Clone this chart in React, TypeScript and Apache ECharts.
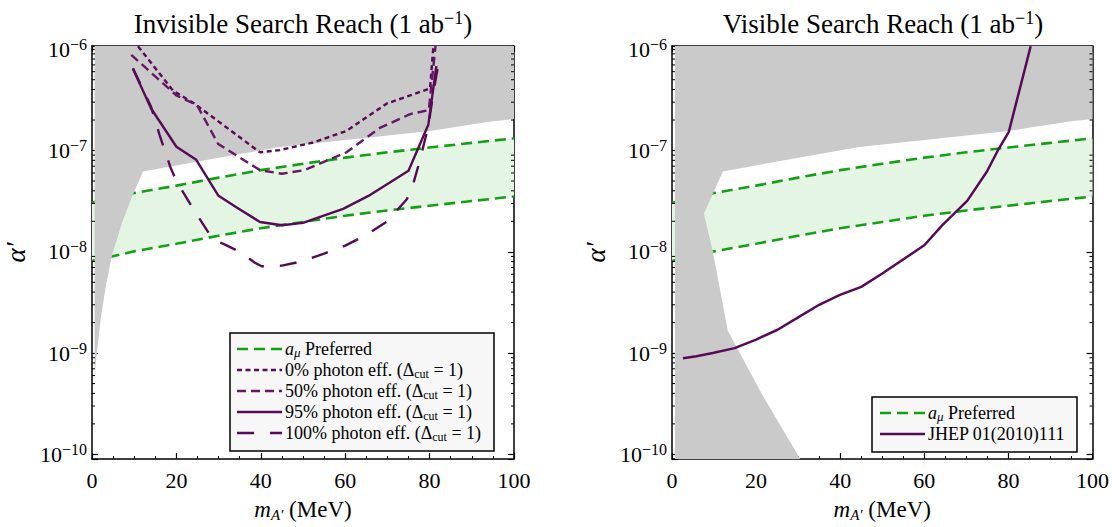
import React, { useEffect, useRef } from "react";
import * as echarts from "echarts";

// ---------------- data ----------------
const X_MIN = 0;
const X_MAX = 100;
const Y_MIN = 9.0e-11;
const Y_MAX = 1.076e-6;

// a_mu preferred band (MeV, alpha')
const amuX = [0, 10, 20, 30, 40, 50, 60, 70, 80, 90, 100];
const amuUpper = [3.05e-8, 3.8e-8, 4.5e-8, 5.4e-8, 6.4e-8, 7.4e-8, 8.5e-8, 9.6e-8, 1.07e-7, 1.19e-7, 1.32e-7];
const amuLower = [8.1e-9, 1.01e-8, 1.2e-8, 1.44e-8, 1.71e-8, 1.97e-8, 2.27e-8, 2.56e-8, 2.85e-8, 3.17e-8, 3.52e-8];

// excluded region: upper boundary (shared by both panels)
const exclTopX = [12.1, 28.7, 44.5, 80.1, 94.5, 100];
const exclTopA = [6.2e-8, 8.3e-8, 1.08e-7, 1.56e-7, 1.93e-7, 2.05e-7];

// excluded region: low-mass boundary, invisible panel
const invisLowX = [0.62, 0.7, 1.25, 2.04, 3.23, 4.8, 7.18, 9.55];
const invisLowA = [5.5e-10, 6.6e-10, 1.1e-9, 2.15e-9, 4.5e-9, 9.4e-9, 1.97e-8, 3.56e-8];

// excluded region: low-mass boundary, visible panel
const visLowX = [7.57, 9.7, 13.27, 21.6, 30.5];
const visLowA = [2.37e-8, 1.01e-8, 1.66e-9, 3.8e-10, 9.0e-11];
const exclLeftX = 0.7;

// invisible search reach curves
const eff0X = [10.9, 19.2, 24.3, 39.8, 44.5, 52.4, 60.3, 69.8, 80.1, 80.9];
const eff0A = [1.07e-6, 3.9e-7, 2.9e-7, 9.6e-8, 1.01e-7, 1.2e-7, 1.56e-7, 2.9e-7, 4.1e-7, 1.07e-6];
const eff50X = [9.3, 20.0, 24.9, 29.9, 39.8, 45.0, 50.4, 60.3, 68.2, 75.4, 79.8, 81.4];
const eff50A = [8.8e-7, 3.5e-7, 2.8e-7, 1.16e-7, 6.4e-8, 5.9e-8, 6.4e-8, 9.6e-8, 1.67e-7, 2.29e-7, 2.5e-7, 1.07e-6];
const eff95X = [9.7, 14.0, 20.0, 24.7, 29.9, 34.2, 39.8, 45.0, 50.0, 59.5, 65.5, 75.0, 79.7, 81.6];
const eff95A = [6.4e-7, 2.6e-7, 1.09e-7, 8.1e-8, 3.6e-8, 2.75e-8, 1.97e-8, 1.83e-8, 1.93e-8, 2.65e-8, 3.56e-8, 6.3e-8, 1.8e-7, 6.8e-7];
const eff100X = [9.7, 14.0, 16.0, 18.6, 20.0, 24.0, 28.5, 32.0, 35.0, 38.6, 40.2, 45.0, 50.0, 55.0, 60.0, 65.0, 70.0, 74.6, 76.0, 77.7, 79.7, 81.0, 82.0];
const eff100A = [6.5e-7, 2.7e-7, 1.43e-7, 6.8e-8, 5.0e-8, 2.65e-8, 1.35e-8, 1.15e-8, 1.0e-8, 7.8e-9, 7.2e-9, 7.3e-9, 8.1e-9, 9.6e-9, 1.15e-8, 1.47e-8, 2.0e-8, 3.3e-8, 4.5e-8, 8.0e-8, 1.74e-7, 4.0e-7, 6.8e-7];

// visible search reach (JHEP 01(2010)111)
const jhepX = [2.6, 5.8, 9.7, 14.9, 20.0, 25.1, 30.3, 35.0, 39.8, 45.0, 50.0, 60.0, 64.3, 70.2, 74.9, 77.7, 80.1, 85.3];
const jhepA = [8.9e-10, 9.3e-10, 1.0e-9, 1.12e-9, 1.36e-9, 1.7e-9, 2.29e-9, 3.0e-9, 3.74e-9, 4.5e-9, 6.1e-9, 1.16e-8, 1.83e-8, 3.18e-8, 6.2e-8, 1.04e-7, 1.53e-7, 1.07e-6];

// axis decoration
const minorMantissas = [2, 3, 4, 5, 6, 7, 8, 9];
const minorDecades = [-10, -9, -8, -7];

const titles = ["Invisible Search Reach (1 ab{s|−1})", "Visible Search Reach (1 ab{s|−1})"];
const legendInvisible = [
  "{i|a}{si|μ} Preferred",
  "0% photon eff. (Δ{sub|cut} = 1)",
  "50% photon eff. (Δ{sub|cut} = 1)",
  "95% photon eff. (Δ{sub|cut} = 1)",
  "100% photon eff. (Δ{sub|cut} = 1)",
];
const legendVisible = ["{i|a}{si|μ} Preferred", "JHEP 01(2010)111"];

// ---------------- styles ----------------
const F = "'Liberation Serif', 'Times New Roman', serif";
const GREEN = "#14a014";
const PURPLE = "#570b57";
const PURPLE2 = "#651865";
const GRAY = "#cacaca";
const BAND = "#e4f5e4";

const GRIDS = [
  { left: 92, top: 46, width: 422, height: 424 },
  { left: 672, top: 46, width: 422, height: 424 },
];

const zip = (xs: number[], ys: number[]) => xs.map((x, i) => [x, ys[i]]);

function App() {
  const ref = useRef<HTMLDivElement>(null);

  useEffect(() => {
    if (!ref.current) return;
    const chart = echarts.init(ref.current, undefined, { renderer: "svg" });

    const yFmt = (v: number) => {
      const e = Math.log10(v);
      const r = Math.round(e);
      if (Math.abs(e - r) > 1e-3) return "";
      return `{b|10}{s|${r < 0 ? "−" : ""}${Math.abs(r)}}`;
    };
    const yRich = {
      b: { fontFamily: F, fontSize: 22, lineHeight: 26, color: "#000" },
      s: { fontFamily: F, fontSize: 16, lineHeight: 13, verticalAlign: "top", color: "#000" },
    };
    const axisLine = { show: true, onZero: false, lineStyle: { color: "#000", width: 1.5 } };

    const xAxes: any[] = [];
    const yAxes: any[] = [];
    GRIDS.forEach((_, g) => {
      xAxes.push({
        gridIndex: g, type: "value", min: X_MIN, max: X_MAX, interval: 20, position: "bottom",
        axisLine, splitLine: { show: false },
        axisTick: { show: true, inside: true, length: 6, lineStyle: { color: "#000", width: 1.2 } },
        minorTick: { show: true, splitNumber: 4, length: 3, lineStyle: { color: "#000", width: 1 } },
        axisLabel: { fontFamily: F, fontSize: 22, color: "#000", margin: 10 },
        name: "{i|m}{sub|A′} (MeV)", nameLocation: "middle", nameGap: 37,
        nameTextStyle: {
          fontFamily: F, fontSize: 23, color: "#000", lineHeight: 26,
          rich: {
            i: { fontFamily: F, fontStyle: "italic", fontSize: 23, lineHeight: 26, color: "#000" },
            sub: { fontFamily: F, fontStyle: "italic", fontSize: 15, lineHeight: 10, verticalAlign: "bottom", color: "#000" },
          },
        },
      });
      xAxes.push({
        gridIndex: g, type: "value", min: X_MIN, max: X_MAX, interval: 20, position: "top",
        axisLine, splitLine: { show: false }, axisLabel: { show: false },
        axisTick: { show: true, inside: true, length: 6, lineStyle: { color: "#000", width: 1.2 } },
        minorTick: { show: true, splitNumber: 4, length: 3, lineStyle: { color: "#000", width: 1 } },
      });
      yAxes.push({
        gridIndex: g, type: "log", logBase: 10, min: Y_MIN, max: Y_MAX, position: "left",
        axisLine, splitLine: { show: false },
        axisTick: { show: true, inside: true, length: 6, lineStyle: { color: "#000", width: 1.2 } },
        axisLabel: { formatter: yFmt, rich: yRich, margin: 5 },
        name: "α′", nameLocation: "middle", nameGap: 63, nameRotate: 90,
        nameTextStyle: { fontFamily: F, fontStyle: "italic", fontSize: 27, color: "#000" },
      });
      yAxes.push({
        gridIndex: g, type: "log", logBase: 10, min: Y_MIN, max: Y_MAX, position: "right",
        axisLine, splitLine: { show: false }, axisLabel: { show: false },
        axisTick: { show: true, inside: true, length: 6, lineStyle: { color: "#000", width: 1.2 } },
      });
    });

    const polygon = (axisIdx: number, pts: number[][], fill: string, z: number) => ({
      type: "custom", xAxisIndex: axisIdx, yAxisIndex: axisIdx, z, silent: true, clip: true,
      data: [pts[0]],
      renderItem: (_p: any, api: any) => ({
        type: "polygon",
        shape: { points: pts.map((p) => api.coord(p)) },
        style: { fill, stroke: null },
      }),
    });

    const line = (axisIdx: number, xs: number[], ys: number[], color: string, width: number, type: any, z: number) => ({
      type: "line", xAxisIndex: axisIdx, yAxisIndex: axisIdx, z, silent: true, clip: true,
      data: zip(xs, ys), symbol: "none", animation: false,
      lineStyle: { color, width, type },
    });

    const minorTickData: number[][] = [];
    minorDecades.forEach((d) => minorMantissas.forEach((m) => minorTickData.push([0, m * Math.pow(10, d)])));
    const minorTicks = (axisIdx: number) => ({
      type: "custom", xAxisIndex: axisIdx, yAxisIndex: axisIdx, z: 10, silent: true,
      data: minorTickData,
      renderItem: (params: any, api: any) => {
        const y = api.coord([0, api.value(1)])[1];
        const cs = params.coordSys;
        return {
          type: "group",
          children: [
            { type: "line", shape: { x1: cs.x, y1: y, x2: cs.x + 3, y2: y }, style: { stroke: "#000", lineWidth: 1 } },
            { type: "line", shape: { x1: cs.x + cs.width - 3, y1: y, x2: cs.x + cs.width, y2: y }, style: { stroke: "#000", lineWidth: 1 } },
          ],
        };
      },
    });

    const bandPts = [...zip(amuX, amuUpper), ...zip(amuX, amuLower).reverse()];
    const topPts = zip(exclTopX, exclTopA).reverse();
    const grayInvis = [
      [invisLowX[0], Y_MAX], [X_MAX, Y_MAX], ...topPts, ...zip(invisLowX, invisLowA).reverse(),
    ];
    const grayVis = [
      [exclLeftX, Y_MAX], [X_MAX, Y_MAX], ...topPts, ...zip(visLowX, visLowA), [exclLeftX, Y_MIN],
    ];

    const series: any[] = [];
    [0, 2].forEach((ai) => {
      series.push(polygon(ai, bandPts, BAND, 1));
      series.push(line(ai, amuX, amuUpper, GREEN, 2.6, [11, 6], 2));
      series.push(line(ai, amuX, amuLower, GREEN, 2.6, [11, 6], 2));
      series.push(polygon(ai, ai === 0 ? grayInvis : grayVis, GRAY, 3));
      series.push(minorTicks(ai));
    });
    series.push(line(0, eff0X, eff0A, PURPLE, 2.4, [5, 3.5], 4));
    series.push(line(0, eff50X, eff50A, PURPLE2, 2.4, [9, 5], 4));
    series.push(line(0, eff95X, eff95A, PURPLE, 2.4, "solid", 4));
    series.push(line(0, eff100X, eff100A, PURPLE, 2.4, [17, 16], 4));
    series.push(line(2, jhepX, jhepA, PURPLE, 2.5, "solid", 4));

    const textRich = {
      i: { fontFamily: F, fontStyle: "italic", fontSize: 18, lineHeight: 20 },
      si: { fontFamily: F, fontStyle: "italic", fontSize: 13, lineHeight: 10, verticalAlign: "bottom" },
      sub: { fontFamily: F, fontSize: 12, lineHeight: 10, verticalAlign: "bottom" },
    };
    const legendStyles = [
      { color: GREEN, dash: [11, 6], w: 2.6 },
      { color: PURPLE, dash: [5, 3.5], w: 2.4 },
      { color: PURPLE2, dash: [9, 5], w: 2.4 },
      { color: PURPLE, dash: null, w: 2.4 },
      { color: PURPLE, dash: [17, 16], w: 2.4 },
    ];
    const graphics: any[] = [];
    const legendBlock = (box: number[], rows: string[], styles: any[], y0: number, lx: number) => {
      graphics.push({
        type: "rect", shape: { x: box[0], y: box[1], width: box[2], height: box[3] },
        style: { fill: "#f7f7f7", stroke: "#000", lineWidth: 1.5 }, z: 100,
      });
      rows.forEach((t, i) => {
        const y = y0 + i * 21;
        const s = styles[i];
        graphics.push({
          type: "line", shape: { x1: lx, y1: y, x2: lx + 45, y2: y },
          style: { stroke: s.color, lineWidth: s.w, lineDash: s.dash || undefined }, z: 101,
        });
        graphics.push({
          type: "text", x: lx + 48, y, z: 101,
          style: {
            text: t, rich: textRich, fontFamily: F, fontSize: 18, lineHeight: 20, fill: "#000",
            align: "left", verticalAlign: "middle",
          },
        });
      });
    };
    legendBlock([230, 333, 264, 118], legendInvisible, legendStyles, 349, 237);
    legendBlock([872, 397, 205, 55], legendVisible, [legendStyles[0], legendStyles[3]], 413, 880);

    titles.forEach((t, g) => {
      graphics.push({
        type: "text", x: GRIDS[g].left + GRIDS[g].width / 2, y: 24,
        style: {
          text: t, fontFamily: F, fontSize: 27, lineHeight: 30, fill: "#000",
          align: "center", verticalAlign: "middle",
          rich: { s: { fontFamily: F, fontSize: 18, lineHeight: 16, verticalAlign: "top" } },
        },
      });
    });

    chart.setOption({
      animation: false,
      backgroundColor: "#fff",
      grid: GRIDS.map((g) => ({ ...g, containLabel: false })),
      xAxis: xAxes,
      yAxis: yAxes,
      series,
      graphic: graphics,
    });

    return () => chart.dispose();
  }, []);

  return (
    <div
      ref={ref}
      style={{ position: "fixed", left: 0, top: 0, width: 1112, height: 527, background: "#fff" }}
    />
  );
}

export default App;
